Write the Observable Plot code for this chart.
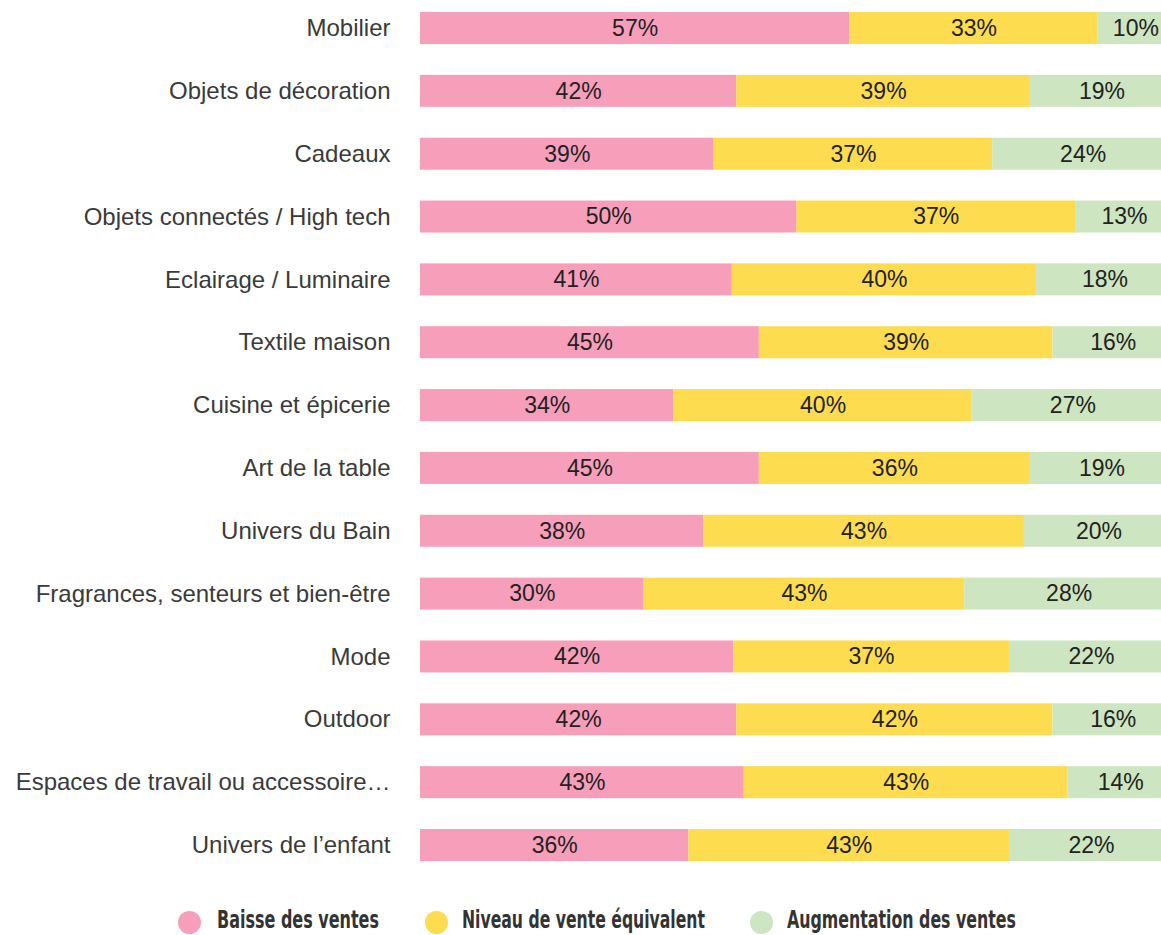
<!DOCTYPE html>
<html><head><meta charset="utf-8">
<script src="https://cdn.jsdelivr.net/npm/d3@7"></script>
<script src="https://cdn.jsdelivr.net/npm/@observablehq/plot@0.6"></script>
<style>
html,body{margin:0;padding:0;overflow:hidden;background:#fff;width:1161px;height:935px}
#chart{position:relative;width:1173px}
#legend{position:relative;height:55px;width:1161px}
.dot{position:absolute;width:23px;height:23px;border-radius:50%}
.lab{position:absolute;white-space:nowrap;font-family:"DejaVu Sans Condensed","DejaVu Sans",sans-serif;font-stretch:condensed;font-weight:bold;font-size:24px;line-height:1;color:#333;transform-origin:0 0}
</style></head><body><div id="chart"></div><div id="legend"></div><script>
const categories = ["Mobilier","Objets de décoration","Cadeaux","Objets connectés / High tech","Eclairage / Luminaire","Textile maison","Cuisine et épicerie","Art de la table","Univers du Bain","Fragrances, senteurs et bien-être","Mode","Outdoor","Espaces de travail ou accessoire…","Univers de l’enfant"];
const baisse       = [57,42,39,50,41,45,34,45,38,30,42,42,43,36];
const equivalent   = [33,39,37,37,40,39,40,36,43,43,37,42,43,43];
const augmentation = [10,19,24,13,18,16,27,19,20,28,22,16,14,22];
const seriesNames = ["Baisse des ventes","Niveau de vente équivalent","Augmentation des ventes"];
const seriesColors = ["#F79FBA","#FEDC4F","#CDE5C0"];
const seriesValues = [baisse, equivalent, augmentation];

const data = categories.flatMap((c, i) => seriesNames.map((s, j) => ({cat: c, series: s, value: seriesValues[j][i]})));

const plot = Plot.plot({
  width: 1173, height: 880,
  marginLeft: 420, marginRight: 0, marginTop: 12, marginBottom: 19,
  style: {maxWidth: "none", fontFamily: "'Liberation Sans', Arial, sans-serif", color: "#444", background: "#fff"},
  x: {axis: null, domain: [0, 1]},
  y: {domain: categories, paddingInner: 0.491, paddingOuter: 0, round: false, axis: null},
  color: {domain: seriesNames, range: seriesColors},
  marks: [
    Plot.barX(data, Plot.stackX({x: "value", y: "cat", fill: "series", z: "series", offset: "normalize", order: seriesNames})),
    Plot.textX(data, Plot.stackX({x: "value", y: "cat", z: "series", offset: "normalize", order: seriesNames, text: d => d.value + "%", fontSize: 23, fill: "#222"})),
    Plot.axisY({tickSize: 0, tickPadding: 30, fontSize: 24, label: null, fill: "#3a3a3a"})
  ]
});
document.getElementById("chart").appendChild(plot);

// legend
const legendPos = [{dot: 178, text: 217, w: 162}, {dot: 425, text: 462, w: 243}, {dot: 750, text: 787, w: 229}];
const legend = document.getElementById("legend");
seriesNames.forEach((s, j) => {
  const dot = document.createElement("div");
  dot.className = "dot";
  dot.style.left = legendPos[j].dot + "px";
  dot.style.top = "31px";
  dot.style.background = seriesColors[j];
  legend.appendChild(dot);
  const lab = document.createElement("div");
  lab.className = "lab";
  lab.textContent = s;
  lab.style.left = legendPos[j].text + "px";
  lab.style.top = "28px";
  legend.appendChild(lab);
  const w = lab.getBoundingClientRect().width;
  lab.style.transform = `scaleX(${legendPos[j].w / w})`;
});
</script></body></html>
